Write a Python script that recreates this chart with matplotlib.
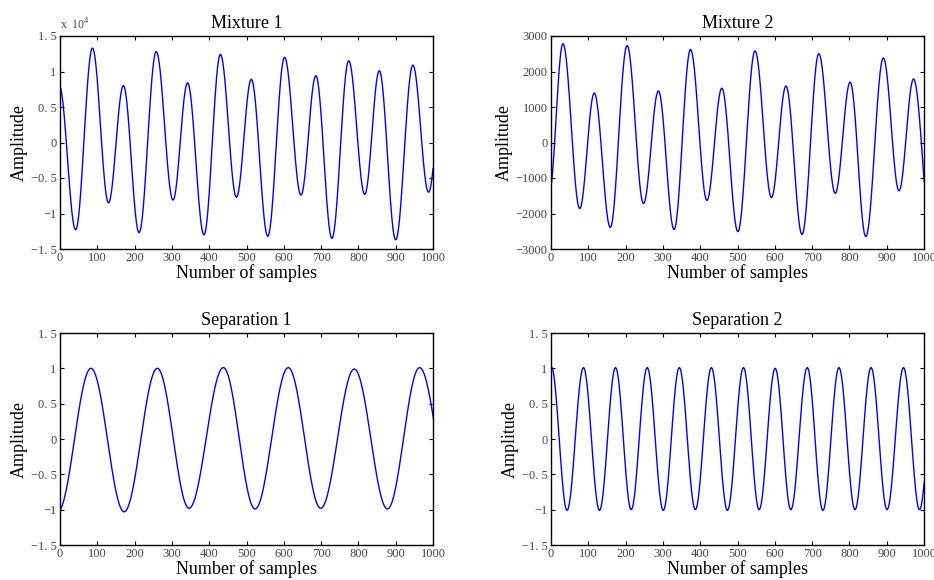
import numpy as np
import matplotlib
matplotlib.use("Agg")
import matplotlib.pyplot as plt

plt.rcParams['font.family'] = ['Liberation Serif', 'DejaVu Serif']
plt.rcParams['mathtext.fontset'] = 'custom'
plt.rcParams['mathtext.rm'] = 'Liberation Serif'

# turning points (sample index, amplitude);
# first/last points lie just outside 0..1000 so the curve meets the edges
mix1_x = [-2, 42, 87, 130, 170, 212, 258, 303, 342, 386, 430, 473, 513, 557,
          602, 646, 686, 729, 774, 817, 856, 900, 946, 988, 1030]
mix1_y = [8000, -12300, 13300, -8500, 8000, -12700, 12800, -8100, 8400, -13000,
          12400, -7700, 8900, -13200, 12000, -7400, 9400, -13500, 11500, -7300,
          10100, -13700, 10900, -7000, 10500]

mix2_x = [-5, 32, 77, 116, 159, 204, 248, 288, 330, 374, 418, 458, 501, 547,
          591, 630, 673, 718, 762, 802, 844, 891, 933, 972, 1020]
mix2_y = [-1450, 2780, -1860, 1390, -2390, 2730, -1720, 1450, -2450, 2620,
          -1630, 1530, -2510, 2580, -1550, 1590, -2590, 2500, -1430, 1700,
          -2650, 2380, -1360, 1790, -2700]

sep1_x = [-6, 83, 172, 261, 346, 438, 523, 612, 699, 789, 878, 964, 1055]
sep1_y = [-1.03, 1.00, -1.03, 1.00, -0.98, 1.01, -0.99, 1.01, -0.98, 0.99,
          -0.99, 1.01, -1.00]

sep2_x = [-41, 1, 43, 87, 130, 173, 215, 258, 301, 344, 387, 430, 473, 516,
          558, 601, 643, 687, 729, 772, 815, 858, 901, 945, 988, 1031]
sep2_y = [-1.00, 1.02, -1.01, 1.01, -1.01, 1.01, -1.00, 1.01, -1.01, 1.01,
          -1.00, 1.01, -1.01, 1.01, -1.00, 1.00, -1.00, 1.01, -1.01, 1.01,
          -1.00, 1.01, -1.00, 1.01, -1.00, 1.00]

titles = ['Mixture 1', 'Mixture 2', 'Separation 1', 'Separation 2']
x_ticks = list(range(0, 1001, 100))
unit_ticks = [-1.5, -1, -0.5, 0, 0.5, 1, 1.5]
unit_labels = ['\u22121. 5', '\u22121', '\u22120. 5', '0', '0. 5', '1', '1. 5']
mix2_ticks = [-3000, -2000, -1000, 0, 1000, 2000, 3000]
mix2_labels = ['\u22123000', '\u22122000', '\u22121000', '0', '1000', '2000', '3000']


def wave(xk, yk, n=60):
    # half-cosine between each pair of turning points
    xs, ys = [], []
    for i in range(len(xk) - 1):
        t = np.linspace(0, 1, n)
        xs.append(xk[i] + (xk[i + 1] - xk[i]) * t)
        ys.append(yk[i] + (yk[i + 1] - yk[i]) * (1 - np.cos(np.pi * t)) / 2)
    return np.concatenate(xs), np.concatenate(ys)


fig = plt.figure(figsize=(9.34, 5.8), dpi=100)
positions = [
    [60 / 934, 1 - 249 / 580, 373 / 934, 213 / 580],
    [551 / 934, 1 - 249 / 580, 373 / 934, 213 / 580],
    [60 / 934, 1 - 545 / 580, 373 / 934, 212 / 580],
    [551 / 934, 1 - 545 / 580, 373 / 934, 212 / 580],
]
series = [(mix1_x, mix1_y), (mix2_x, mix2_y), (sep1_x, sep1_y), (sep2_x, sep2_y)]

for k in range(4):
    ax = fig.add_axes(positions[k])
    xs, ys = wave(*series[k])
    ax.plot(xs, ys, color='#0000ff', linewidth=1.0)
    ax.set_xlim(0, 1000)
    ax.set_xticks(x_ticks)
    ax.set_xticklabels([str(v) for v in x_ticks])
    if k == 0:
        ax.set_ylim(-15000, 15000)
        ax.set_yticks([v * 10000 for v in unit_ticks])
        ax.set_yticklabels(unit_labels)
        ax.text(0, 1.015, 'x  10$^{4}$', transform=ax.transAxes, fontsize=8.5,
                color='#444444', ha='left', va='bottom')
    elif k == 1:
        ax.set_ylim(-3000, 3000)
        ax.set_yticks(mix2_ticks)
        ax.set_yticklabels(mix2_labels)
    else:
        ax.set_ylim(-1.5, 1.5)
        ax.set_yticks(unit_ticks)
        ax.set_yticklabels(unit_labels)
    ax.tick_params(direction='in', length=3, width=0.8, top=True, right=True,
                   labelsize=9, labelcolor='#444444', pad=2.5)
    for s in ax.spines.values():
        s.set_linewidth(1.0)
    ax.set_title(titles[k], fontsize=13, pad=6)
    ax.set_xlabel('Number of samples', fontsize=13, labelpad=0)
    ax.set_ylabel('Amplitude', fontsize=13, labelpad=2)

fig.savefig('out.png', dpi=100)
